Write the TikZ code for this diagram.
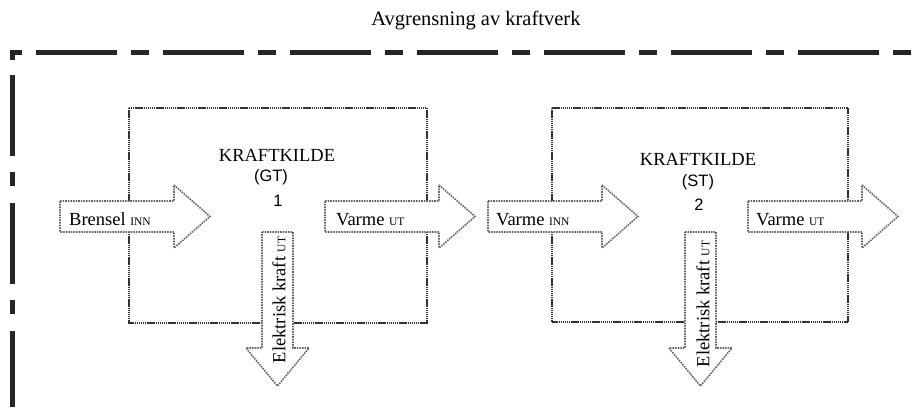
\documentclass[tikz,border=0pt]{standalone}
\usepackage{fontspec}
\setmainfont{Liberation Serif}
\newfontfamily\arialfont{Liberation Sans}
\newcommand{\lite}[1]{{\fontsize{11.5}{12}\selectfont #1}}

\tikzset{
  grense/.style={line width=5pt, black!85},
  kildeboks/.style={draw=black!80, line width=2.4pt, dash pattern=on 1.4pt off 0.7pt},
  blokkpil/.style={draw=black!60, fill=white, line width=1.6pt, densely dotted},
  tekst/.style={font=\fontsize{18.5}{20}\selectfont, inner sep=0pt},
  sans/.style={font=\arialfont\fontsize{16.5}{18}\selectfont, inner sep=0pt},
}

\begin{document}
\begin{tikzpicture}[x=1pt, y=-1pt]
  \useasboundingbox (0,0) rectangle (917,407);

  % tittel
  \node[tekst, font=\fontsize{20.5}{22}\selectfont] (tittel) at (476,20) {Avgrensning av kraftverk};

  % avgrensning
  \draw[grense, dash pattern=on 18pt off 14pt on 81pt off 14pt] (12,60) -- (12,52) -- (917,52);
  \draw[grense, dash pattern=on 81pt off 16pt on 14pt off 17pt] (12,75) -- (12,407);

  % kraftkilder
  \draw[kildeboks] (129,108) rectangle (427,323);
  \draw[kildeboks] (552,108) rectangle (848,322);

  % piler inn/ut
  \foreach \x in {60,325,488,748} {
    \draw[blokkpil] (\x,201) -- ++(114,0) -- ++(0,-16) -- ++(36,31.5)
      -- ++(-36,31.5) -- ++(0,-16) -- ++(-114,0) -- cycle;
  }
  % piler ned
  \foreach \x in {277.5,700.5} {
    \draw[blokkpil] ({\x-15.5},232) -- ++(31,0) -- ++(0,116) -- ++(16,0)
      -- ++(-31.5,38) -- ++(-31.5,-38) -- ++(16,0) -- cycle;
  }

  \node[tekst] (kilde1) at (277,155) {KRAFTKILDE};
  \node[sans] (gt) at (271,177) {(GT)};
  \node[sans] (nr1) at (278,201) {1};
  \node[tekst] (kilde2) at (698,159) {KRAFTKILDE};
  \node[sans] (st) at (698,182) {(ST)};
  \node[sans] (nr2) at (699,205) {2};

  \node[tekst, anchor=base west] (brensel) at (69,225) {Brensel \lite{INN}};
  \node[tekst, anchor=base west] (varmeut1) at (336,225) {Varme \lite{UT}};
  \node[tekst, anchor=base west] (varmeinn) at (496,225) {Varme \lite{INN}};
  \node[tekst, anchor=base west] (varmeut2) at (756,225) {Varme \lite{UT}};

  \node[tekst, rotate=90] (elkraft1) at (279,300) {Elektrisk kraft \lite{UT}};
  \node[tekst, rotate=90] (elkraft2) at (703,304) {Elektrisk kraft \lite{UT}};
\end{tikzpicture}
\end{document}
